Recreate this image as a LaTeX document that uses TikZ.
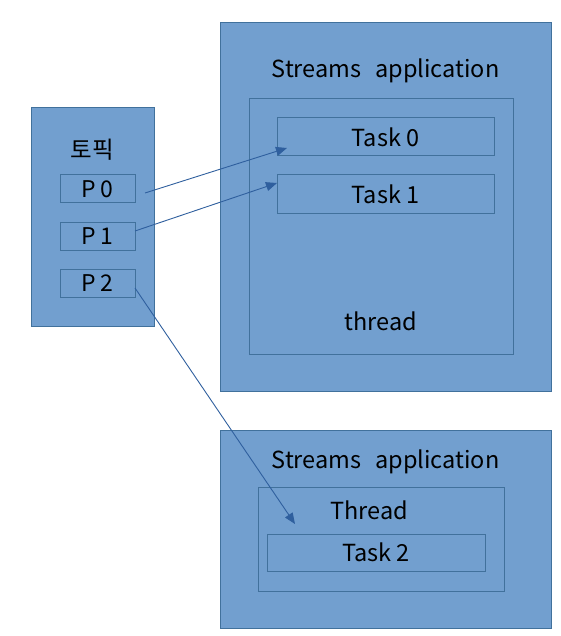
\documentclass[tikz,border=0pt]{standalone}
\usepackage{fontspec}
\setmainfont{Noto Sans CJK KR}
\usetikzlibrary{arrows.meta}
\definecolor{boxfill}{HTML}{729FCF}
\definecolor{boxline}{HTML}{41719C}
\definecolor{arrowc}{HTML}{2F5F9E}
\tikzset{
  blk/.style={draw=boxline, fill=boxfill, line width=1pt, inner sep=0pt, rectangle},
  inner/.style={draw=boxline, line width=1pt, inner sep=0pt, rectangle},
  lbl/.style={font=\fontsize{23.5}{26}\selectfont, inner sep=0pt, text=black},
  plbl/.style={font=\fontsize{23}{26}\selectfont, inner sep=0pt, text=black},
  conn/.style={draw=arrowc, line width=0.9pt, -{Triangle[length=11pt,width=9pt]}}
}
\begin{document}
\begin{tikzpicture}[x=1pt,y=-1pt]
\useasboundingbox (0,0) rectangle (561,636);
% left topic
\node[blk, minimum width=123pt, minimum height=218pt] (topic) at (92.5,217) {};
\node[lbl] (topiclbl) at (92.5,150) {토픽};
\node[inner, minimum width=75pt, minimum height=28pt, plbl] (p0) at (97.5,189) {P\hspace{5pt}0};
\node[inner, minimum width=75pt, minimum height=28pt, plbl] (p1) at (97.5,236) {P\hspace{5pt}1};
\node[inner, minimum width=75pt, minimum height=28pt, plbl] (p2) at (97.5,283) {P\hspace{5pt}2};
% app 1
\node[blk, minimum width=331pt, minimum height=368pt] (app1) at (385.5,207) {};
\node[lbl] (app1lbl) at (385.5,71) {Streams\hspace{14pt}application};
\node[inner, minimum width=264pt, minimum height=255pt] (thread1) at (381,226.5) {};
\node[lbl] (thread1lbl) at (381,321) {thread};
\node[inner, minimum width=217pt, minimum height=38pt, lbl] (task0) at (385.5,137) {Task 0};
\node[inner, minimum width=217pt, minimum height=38pt, lbl] (task1) at (385.5,194) {Task 1};
% app 2
\node[blk, minimum width=331pt, minimum height=198pt] (app2) at (385.5,529) {};
\node[lbl] (app2lbl) at (385.5,462) {Streams\hspace{14pt}application};
\node[inner, minimum width=246pt, minimum height=104pt] (thread2) at (381,539) {};
\node[lbl] (thread2lbl) at (369,510) {Thread};
\node[inner, minimum width=218pt, minimum height=37pt, lbl] (task2) at (376,552.5) {Task 2};
% connectors
\coordinate (s0) at (145,193);
\coordinate (e0) at (287,148);
\coordinate (s1) at (135,231);
\coordinate (e1) at (277,183);
\coordinate (s2) at (135,288);
\coordinate (e2) at (295,524);
\draw[conn] (s0) -- (e0);
\draw[conn] (s1) -- (e1);
\draw[conn] (s2) -- (e2);
\end{tikzpicture}
\end{document}
